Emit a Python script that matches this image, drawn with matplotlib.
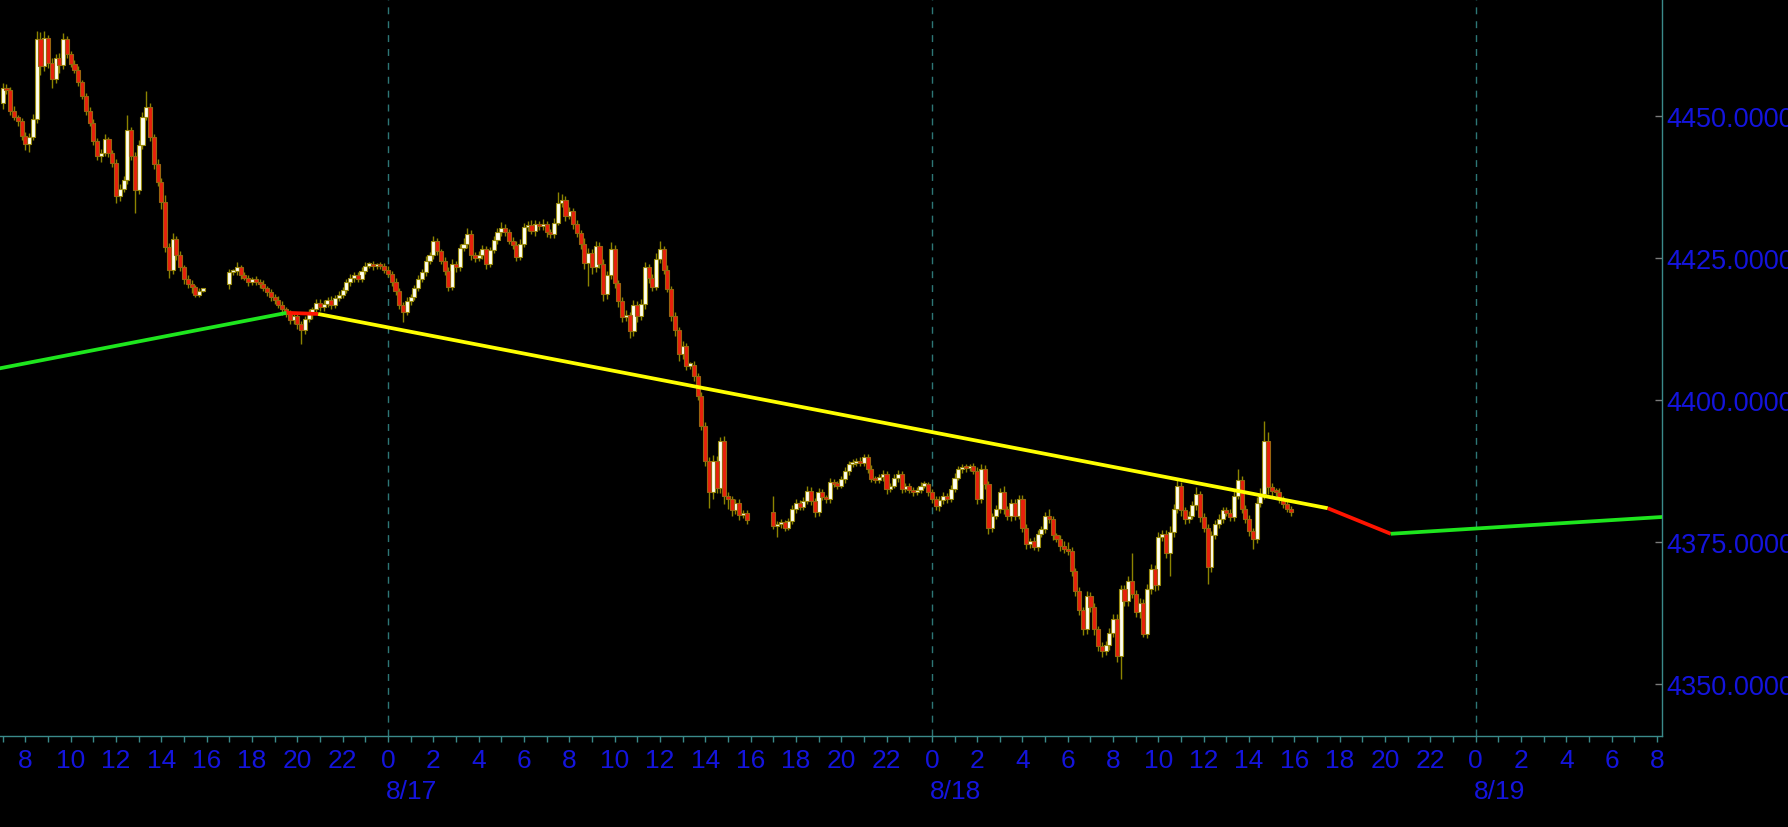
import numpy as np
import matplotlib
matplotlib.use('Agg')
from matplotlib import pyplot as plt
from matplotlib import font_manager
from matplotlib.ticker import FixedLocator, FuncFormatter
import matplotlib.transforms as mtrans

# time axis: hours counted from 8/17 00:00, one candle = 10 minutes
s1_start, s2_start, s3_start = -17.0, -7.0, 17.0
s1_open0, s2_open0, s3_open0 = 4452.3, 4420.5, 4380.3

# 8/16 07:00 - 15:50
s1_close = [4455.0, 4454.6, 4451.0, 4449.8, 4449.2, 4446.6,
            4445.2, 4446.4, 4449.6, 4463.6, 4458.8, 4463.8,
            4459.4, 4456.5, 4460.2, 4459.0, 4463.6, 4461.0,
            4459.2, 4458.2, 4456.0, 4453.6, 4451.0, 4448.8,
            4445.6, 4443.0, 4443.6, 4446.0, 4443.6, 4441.8,
            4436.0, 4437.2, 4438.8, 4447.6, 4443.0, 4437.0,
            4445.0, 4449.8, 4451.6, 4446.3, 4441.6, 4438.4,
            4434.9, 4427.0, 4423.0, 4428.4, 4425.5, 4423.4,
            4421.4, 4420.4, 4419.9, 4418.6, 4419.3, 4419.4]
s1_up = [0.8, 0.6, 0.5, 0.9, 0.4, 0.5,
         0.6, 0.7, 0.8, 1.4, 1.2, 1.2,
         0.6, 0.8, 0.7, 0.9, 1.0, 0.6,
         0.5, 0.7, 0.6, 0.4, 0.5, 0.6,
         0.7, 0.5, 0.6, 0.9, 0.4, 0.5,
         0.6, 0.8, 0.7, 2.6, 0.6, 0.8,
         0.9, 1.0, 2.8, 0.7, 0.6, 0.9,
         0.8, 1.2, 0.7, 1.0, 0.6, 0.8,
         0.5, 0.6, 0.7, 0.4, 0.5, 0.3]
s1_dn = [1.0, 0.6, 0.8, 0.5, 0.9, 0.7,
         1.2, 1.4, 0.6, 0.8, 1.6, 0.8,
         0.9, 1.5, 0.7, 1.4, 0.6, 0.8,
         0.6, 0.5, 0.7, 0.6, 0.8, 0.5,
         0.6, 0.7, 1.0, 0.6, 0.8, 0.7,
         1.3, 0.9, 0.6, 0.8, 0.7, 4.0,
         0.6, 0.7, 0.5, 0.6, 0.8, 0.6,
         1.2, 0.9, 1.4, 0.7, 0.8, 0.6,
         0.9, 0.7, 1.0, 0.5, 0.4, 0.3]

# 8/16 17:00 - 8/17 15:50
s2_close = [4422.5, 4422.7, 4423.5, 4422.0, 4421.6, 4420.8,
            4421.3, 4420.9, 4420.4, 4419.8, 4419.0, 4418.2,
            4417.6, 4416.8, 4416.0, 4415.2, 4414.2, 4414.8,
            4413.5, 4412.3, 4414.3, 4415.2, 4416.0, 4417.2,
            4416.4, 4417.0, 4417.6, 4416.8, 4418.0, 4418.6,
            4419.4, 4420.8, 4421.5, 4422.0, 4421.4, 4422.8,
            4423.7, 4423.9, 4423.6, 4423.8, 4423.6, 4423.0,
            4422.2, 4420.8, 4419.2, 4416.8, 4415.6, 4417.4,
            4418.2, 4419.8, 4421.4, 4422.6, 4424.6, 4425.5,
            4428.0, 4426.2, 4424.5, 4422.8, 4420.0, 4424.0,
            4423.4, 4426.8, 4427.6, 4429.3, 4425.6, 4425.0,
            4425.6, 4426.6, 4424.0, 4426.4, 4428.2, 4429.6,
            4430.4, 4429.6, 4428.0, 4427.4, 4425.2, 4427.6,
            4430.5, 4430.9, 4429.8, 4431.0, 4430.6, 4431.0,
            4429.6, 4429.2, 4431.3, 4434.7, 4435.2, 4432.5,
            4433.3, 4431.0, 4429.4, 4427.6, 4424.2, 4426.0,
            4423.4, 4427.2, 4424.0, 4418.8, 4422.0, 4426.6,
            4420.6, 4417.4, 4414.6, 4415.0, 4412.2, 4416.8,
            4414.8, 4417.0, 4423.4, 4421.5, 4420.0, 4424.9,
            4426.6, 4423.0, 4419.6, 4414.9, 4412.3, 4408.2,
            4409.6, 4406.1, 4406.2, 4404.3, 4400.8, 4395.5,
            4389.4, 4383.8, 4389.4, 4384.6, 4392.9, 4383.2,
            4382.6, 4380.6, 4382.0, 4379.8, 4380.2, 4379.0]
s2_up = [0.6, 0.5, 0.8, 0.4, 0.6, 0.5,
         0.4, 0.6, 0.5, 0.7, 0.4, 0.6,
         0.5, 0.8, 0.6, 0.5, 0.7, 0.6,
         0.8, 0.5, 0.6, 0.9, 0.5, 0.6,
         0.7, 0.6, 0.5, 0.8, 0.6, 0.7,
         0.5, 0.6, 0.8, 0.5, 0.6, 0.7,
         0.6, 0.5, 0.7, 0.4, 0.6, 0.5,
         0.6, 0.5, 0.7, 0.6, 0.5, 0.8,
         0.6, 0.5, 0.7, 0.6, 0.8, 0.6,
         1.0, 0.6, 0.5, 0.7, 0.6, 0.8,
         0.6, 0.7, 0.9, 1.0, 0.6, 0.5,
         0.6, 0.7, 0.5, 0.6, 0.8, 0.7,
         1.0, 0.6, 0.5, 0.7, 0.6, 0.8,
         0.7, 0.6, 0.8, 0.7, 0.6, 0.9,
         0.6, 0.5, 0.8, 1.9, 1.2, 0.7,
         0.8, 0.6, 0.7, 0.5, 0.9, 0.8,
         0.7, 0.9, 0.6, 0.8, 0.7, 1.2,
         0.8, 0.6, 0.7, 0.9, 0.6, 0.8,
         0.7, 0.9, 1.0, 0.6, 0.7, 1.1,
         1.4, 0.6, 0.8, 0.5, 0.7, 0.6,
         0.8, 0.5, 0.6, 0.7, 0.5, 0.6,
         0.7, 0.6, 1.0, 0.8, 0.6, 0.8,
         0.6, 0.5, 0.7, 0.6, 0.5, 0.4]
s2_dn = [0.9, 0.5, 0.6, 0.7, 0.5, 0.6,
         0.5, 0.6, 0.7, 0.5, 0.6, 0.8,
         0.7, 0.6, 0.9, 0.6, 0.8, 0.7,
         0.9, 2.3, 0.7, 0.6, 0.8, 0.5,
         0.6, 0.7, 0.5, 0.8, 0.6, 0.5,
         0.6, 0.5, 0.7, 0.6, 0.5, 0.6,
         0.5, 0.4, 0.6, 0.5, 0.4, 0.6,
         0.5, 0.7, 0.6, 0.8, 1.8, 0.6,
         0.7, 0.5, 0.6, 0.5, 0.7, 0.6,
         0.6, 0.7, 0.5, 0.8, 0.7, 0.6,
         0.8, 0.6, 0.5, 0.7, 0.9, 0.6,
         0.5, 0.7, 0.8, 0.6, 0.5, 0.6,
         0.6, 0.7, 0.5, 0.8, 0.6, 0.5,
         0.6, 0.7, 0.5, 0.8, 0.6, 0.7,
         0.8, 0.6, 0.7, 0.5, 0.6, 0.9,
         0.6, 0.8, 0.7, 0.9, 1.0, 4.0,
         1.1, 0.8, 0.7, 1.3, 0.9, 0.7,
         0.8, 1.0, 0.9, 0.7, 1.3, 0.8,
         1.1, 0.7, 0.9, 0.8, 0.7, 0.6,
         0.7, 0.8, 0.6, 0.9, 1.0, 1.2,
         0.9, 0.8, 0.6, 0.9, 0.7, 0.8,
         1.0, 2.8, 1.2, 1.0, 0.9, 1.5,
         1.8, 0.9, 0.7, 0.8, 0.6, 0.7]

# 8/17 17:00 - 8/18 15:50
s3_close = [4377.9, 4378.2, 4378.5, 4377.6, 4378.8, 4380.9,
            4382.0, 4381.2, 4382.3, 4384.1, 4382.3, 4380.3,
            4383.8, 4382.9, 4382.6, 4385.6, 4385.3, 4385.0,
            4386.1, 4387.6, 4388.8, 4389.0, 4389.4, 4389.0,
            4390.0, 4387.9, 4386.2, 4386.0, 4386.5, 4387.0,
            4384.4, 4385.0, 4386.4, 4387.0, 4384.4, 4385.0,
            4384.2, 4383.8, 4384.2, 4385.0, 4385.2, 4383.8,
            4382.6, 4381.4, 4382.4, 4383.2, 4382.6, 4384.4,
            4386.4, 4387.9, 4388.2, 4388.0, 4388.5, 4387.6,
            4382.6, 4387.9, 4385.2, 4377.6, 4379.7, 4380.9,
            4383.8, 4380.8, 4379.6, 4382.0, 4379.7, 4382.6,
            4377.6, 4374.7, 4375.3, 4374.2, 4376.5, 4377.3,
            4379.7, 4379.1, 4376.2, 4375.6, 4374.4, 4373.8,
            4373.5, 4370.0, 4366.5, 4363.0, 4359.8, 4365.6,
            4363.6, 4359.7, 4356.8, 4355.9, 4357.0, 4359.1,
            4361.5, 4355.0, 4366.8, 4364.6, 4368.2, 4365.9,
            4362.7, 4364.4, 4358.9, 4366.8, 4370.3, 4367.4,
            4376.0, 4376.4, 4373.2, 4376.8, 4380.9, 4385.0,
            4380.6, 4379.1, 4379.7, 4381.5, 4383.5, 4379.4,
            4377.6, 4370.6, 4376.2, 4378.2, 4379.1, 4380.6,
            4380.2, 4379.5, 4383.2, 4385.9, 4380.9, 4379.1,
            4377.0, 4375.6, 4382.0, 4383.5, 4392.9, 4384.7,
            4384.0, 4383.8, 4382.6, 4381.8, 4380.9, 4380.3]
s3_up = [2.9, 0.5, 0.6, 0.4, 0.5, 0.7,
         0.6, 0.5, 0.7, 0.8, 0.6, 0.5,
         0.7, 0.6, 0.5, 0.8, 0.6, 0.5,
         0.6, 0.7, 0.5, 0.6, 0.5, 0.6,
         0.5, 0.6, 0.7, 0.5, 0.6, 0.8,
         0.6, 0.5, 0.7, 0.8, 0.6, 0.5,
         0.5, 0.6, 0.5, 0.7, 0.6, 0.5,
         0.6, 0.5, 0.7, 0.6, 0.5, 0.7,
         0.8, 0.6, 0.5, 0.6, 0.3, 0.5,
         0.6, 0.8, 0.7, 0.6, 0.5, 0.7,
         0.8, 1.2, 0.6, 0.7, 0.6, 0.8,
         0.7, 0.6, 0.5, 0.7, 0.6, 0.5,
         0.7, 1.2, 0.6, 0.5, 0.7, 0.8,
         1.2, 0.6, 0.5, 0.7, 0.6, 0.8,
         0.6, 0.7, 0.5, 0.6, 0.7, 0.8,
         0.9, 0.8, 0.6, 0.7, 0.9, 5.0,
         0.7, 0.8, 0.6, 0.9, 0.8, 0.7,
         0.9, 0.8, 0.7, 1.0, 0.8, 0.9,
         0.7, 0.6, 0.8, 0.7, 1.2, 0.6,
         0.7, 0.6, 0.8, 0.7, 0.9, 0.6,
         0.7, 0.6, 0.9, 2.0, 0.7, 0.6,
         0.7, 0.6, 0.9, 1.0, 3.5, 1.6,
         0.8, 0.6, 0.7, 0.5, 0.6, 0.5]
s3_dn = [0.6, 2.0, 0.7, 0.6, 0.5, 0.6,
         0.7, 0.5, 0.6, 0.5, 0.7, 0.8,
         0.6, 0.5, 0.7, 0.6, 0.5, 0.6,
         0.5, 0.6, 0.7, 0.5, 0.6, 0.5,
         0.6, 0.7, 0.5, 0.6, 0.5, 0.7,
         0.9, 0.6, 0.5, 0.7, 0.8, 0.6,
         0.6, 0.7, 0.5, 0.6, 0.5, 0.7,
         0.6, 0.8, 0.9, 0.6, 0.7, 0.5,
         0.6, 0.5, 0.7, 0.6, 0.5, 0.6,
         0.9, 0.7, 0.8, 1.1, 0.7, 0.6,
         0.7, 0.8, 0.6, 0.9, 0.7, 0.6,
         0.8, 0.9, 0.7, 0.6, 0.8, 0.5,
         0.6, 0.7, 0.8, 0.6, 0.9, 0.7,
         0.8, 0.9, 1.0, 0.8, 1.2, 0.9,
         0.8, 1.0, 0.9, 1.1, 0.8, 0.9,
         0.8, 1.0, 4.0, 0.9, 0.8, 0.7,
         0.9, 1.0, 0.6, 0.8, 0.9, 1.0,
         0.8, 0.7, 0.9, 4.1, 0.8, 0.7,
         0.9, 0.8, 0.7, 0.6, 0.8, 0.9,
         0.7, 3.0, 0.8, 0.7, 0.6, 0.7,
         0.6, 0.8, 0.7, 0.6, 0.8, 0.7,
         0.9, 1.8, 0.8, 0.7, 0.9, 1.2,
         0.8, 0.7, 0.6, 0.8, 0.6, 0.6]

# trend line vertices and segment colours
trend_x = [-17.3, -4.47, -3.08, 41.47, 44.25, 56.4]
trend_y = [4405.5, 4415.4, 4415.2, 4381.0, 4376.5, 4379.5]
trend_c = ['#1ee61e', '#ff1400', '#ffff00', '#ff1400', '#1ee61e']

y_ticks = [4350, 4375, 4400, 4425, 4450]
x_ticks = list(range(-16, 57, 2))
day_ticks = [0, 24, 48]
day_names = ['8/17', '8/18', '8/19']

BLUE = '#1414dc'
TEAL = '#3a8a8a'

names = {f.name for f in font_manager.fontManager.ttflist}
if 'Liberation Sans Narrow' in names:
    xfont, xsize = 'Liberation Sans Narrow', 20
else:
    xfont, xsize = 'Liberation Sans', 19
yfont = 'Liberation Sans'


def draw_session(ax, start, open0, close, up, dn):
    c = np.array(close)
    o = np.concatenate([[open0], c[:-1]])
    t = start + np.arange(len(c)) / 6.0
    hi = np.maximum(o, c) + np.array(up)
    lo = np.minimum(o, c) - np.array(dn)
    ax.vlines(t, lo, hi, color='#8c8400', lw=1, zorder=2)
    rise = c >= o
    body = np.maximum(np.abs(c - o), 0.4)
    bot = np.minimum(o, c)
    ax.bar(t[rise], body[rise], 0.18, bot[rise], color='#fffff0',
           edgecolor='#9a8c10', lw=0.8, zorder=3)
    ax.bar(t[~rise], body[~rise], 0.18, bot[~rise], color='#e8200c',
           edgecolor='#9a6410', lw=0.8, zorder=3)


fig = plt.figure(figsize=(17.88, 8.28), dpi=100, facecolor='black')
ax = fig.add_axes([0, 91 / 828, 1662 / 1788, 737 / 828])
ax.set_facecolor('black')

for d in day_ticks:
    ax.axvline(d, color='#2d7676', lw=1, ls=(0, (5, 5)), zorder=1)

draw_session(ax, s1_start, s1_open0, s1_close, s1_up, s1_dn)
draw_session(ax, s2_start, s2_open0, s2_close, s2_up, s2_dn)
draw_session(ax, s3_start, s3_open0, s3_close, s3_up, s3_dn)

for i in range(len(trend_c)):
    ax.plot(trend_x[i:i + 2], trend_y[i:i + 2], color=trend_c[i], lw=2.7,
            solid_capstyle='butt', zorder=5)

ax.set_xlim(-17.12, 56.22)
ax.set_ylim(4340.9, 4470.65)

for s in ['left', 'top']:
    ax.spines[s].set_visible(False)
for s in ['right', 'bottom']:
    ax.spines[s].set_color(TEAL)
    ax.spines[s].set_linewidth(1)

# right price axis (labels run past the right edge, as in the source)
ax.yaxis.tick_right()
ax.yaxis.set_major_locator(FixedLocator(y_ticks))
ax.yaxis.set_major_formatter(FuncFormatter(lambda v, p: '%.4f' % v))
ax.tick_params(axis='y', direction='in', length=5, width=1, color='#7a7a7a',
               labelcolor=BLUE, labelsize=19.5, pad=3)
for lab in ax.get_yticklabels():
    lab.set_family(yfont)

# hour axis
ax.xaxis.set_major_locator(FixedLocator(x_ticks))
ax.xaxis.set_minor_locator(FixedLocator(list(range(-17, 57))))
ax.xaxis.set_major_formatter(FuncFormatter(lambda v, p: str(int(round(v)) % 24)))
ax.tick_params(axis='x', which='both', direction='out', length=4, width=1,
               color=TEAL, labelcolor=BLUE, labelsize=xsize, pad=4.5)
for lab in ax.get_xticklabels():
    lab.set_family(xfont)

trans = mtrans.blended_transform_factory(ax.transData, ax.transAxes)
for d, name in zip(day_ticks, day_names):
    ax.text(d - 0.1, -0.0742, name, transform=trans, ha='left', va='center',
            color=BLUE, fontsize=xsize, family=xfont, clip_on=False)

fig.savefig('out.png', dpi=100, facecolor='black')
